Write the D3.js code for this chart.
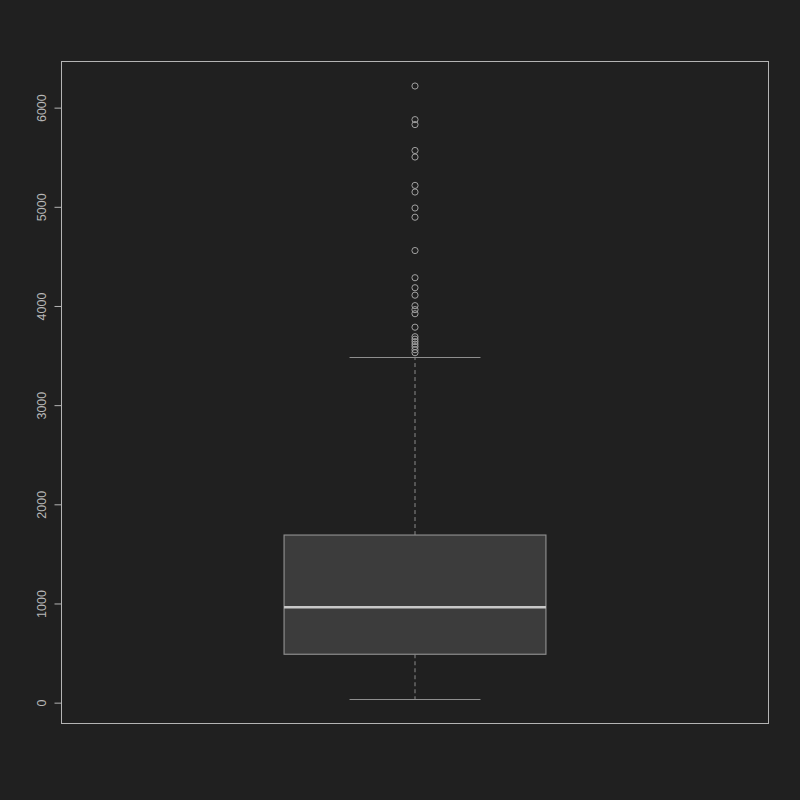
<!DOCTYPE html>
<html>
<head>
<meta charset="utf-8">
<script src="https://cdn.jsdelivr.net/npm/d3@7"></script>
<style>
  html, body { margin: 0; padding: 0; background: #202020; }
  svg { display: block; }
</style>
</head>
<body>
<svg id="chart" width="800" height="800"></svg>
<script>
// Five-number summary
const lowerWhisker = 37;
const q1 = 488;
const median = 961;
const q3 = 1690;
const upperWhisker = 3487;
// Outliers above the upper whisker
const outliers = [6218, 5879, 5829, 5568, 5502, 5216, 5149, 4988, 4895, 4559,
  4285, 4184, 4109, 4003, 3963, 3922, 3786, 3690, 3665, 3640, 3615, 3590, 3559, 3529];
const yTicks = [0, 1000, 2000, 3000, 4000, 5000, 6000];

const svg = d3.select("#chart");
const W = 800, H = 800;
svg.append("rect").attr("width", W).attr("height", H).attr("fill", "#202020");

const mLeft = 61.5, mRight = 768.5, mTop = 61.5, mBottom = 723.5;

const lo = Math.min(lowerWhisker, ...outliers);
const hi = Math.max(upperWhisker, ...outliers);
const pad = (hi - lo) * 0.04;
const y = d3.scaleLinear().domain([lo - pad, hi + pad]).range([mBottom, mTop]);
const x = d3.scaleLinear().domain([0.46, 1.54]).range([mLeft, mRight]);

const g = svg.append("g");

// Whiskers (dashed)
g.append("line")
  .attr("x1", x(1)).attr("x2", x(1))
  .attr("y1", y(q3)).attr("y2", y(upperWhisker))
  .attr("stroke", "#8a8a8a").attr("stroke-width", 1).attr("stroke-dasharray", "4,3");
g.append("line")
  .attr("x1", x(1)).attr("x2", x(1))
  .attr("y1", y(q1)).attr("y2", y(lowerWhisker))
  .attr("stroke", "#8a8a8a").attr("stroke-width", 1).attr("stroke-dasharray", "4,3");

// Caps
[upperWhisker, lowerWhisker].forEach(v => {
  g.append("line")
    .attr("x1", x(0.9)).attr("x2", x(1.1))
    .attr("y1", Math.round(y(v)) + 0.5).attr("y2", Math.round(y(v)) + 0.5)
    .attr("stroke", "#8f8f8f").attr("stroke-width", 1.2);
});

// Box
g.append("rect")
  .attr("x", x(0.8)).attr("width", x(1.2) - x(0.8))
  .attr("y", y(q3)).attr("height", y(q1) - y(q3))
  .attr("fill", "#3c3c3c").attr("stroke", "#8c8c8c").attr("stroke-width", 1.2);

// Median
g.append("line")
  .attr("x1", x(0.8)).attr("x2", x(1.2))
  .attr("y1", y(median)).attr("y2", y(median))
  .attr("stroke", "#c8c8c8").attr("stroke-width", 2.5);

// Outliers
g.selectAll("circle.out").data(outliers).enter().append("circle")
  .attr("class", "out")
  .attr("cx", x(1)).attr("cy", d => y(d)).attr("r", 3.1)
  .attr("fill", "none").attr("stroke", "#a0a0a0").attr("stroke-width", 1);

// Frame
svg.append("rect")
  .attr("x", mLeft).attr("y", mTop).attr("width", mRight - mLeft).attr("height", mBottom - mTop)
  .attr("fill", "none").attr("stroke", "#b4b4b4").attr("stroke-width", 1);

// Y axis
const axis = svg.append("g").attr("transform", `translate(${mLeft},0)`)
  .call(d3.axisLeft(y).tickValues(yTicks).tickSize(7).tickPadding(0).tickFormat(d3.format("d")));
axis.select(".domain").remove();
axis.selectAll(".tick line").attr("stroke", "#b4b4b4");
axis.selectAll(".tick text").remove();
axis.selectAll(".tick").append("text")
  .attr("transform", "translate(-20,0) rotate(-90)")
  .attr("text-anchor", "middle")
  .attr("dy", "0.35em")
  .attr("fill", "#b8b8b8")
  .attr("font-family", "Liberation Sans, Arial, sans-serif")
  .attr("font-size", 12.5)
  .text(d => d);
</script>
</body>
</html>
